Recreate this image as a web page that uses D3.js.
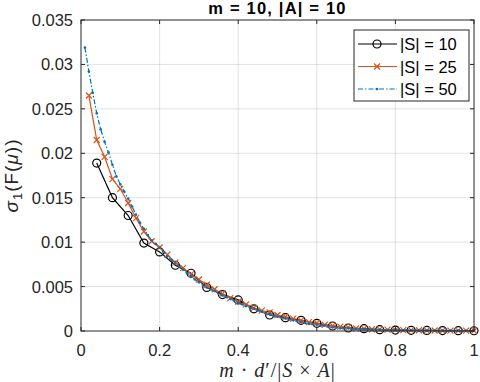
<!DOCTYPE html>
<html>
<head>
<meta charset="utf-8">
<script src="https://cdn.jsdelivr.net/npm/d3@7"></script>
<style>
  body { margin: 0; background: #fff; }
  text { font-family: "Liberation Sans", Arial, sans-serif; }
</style>
</head>
<body>
<div class="svg-container"></div>
<script>
// ---- data ----
let titleText = "m = 10, |A| = 10";

let xTicks = [0, 0.2, 0.4, 0.6, 0.8, 1];
let yTicks = [0, 0.005, 0.01, 0.015, 0.02, 0.025, 0.03, 0.035];
let xTickLabels = ["0", "0.2", "0.4", "0.6", "0.8", "1"];
let yTickLabels = ["0", "0.005", "0.01", "0.015", "0.02", "0.025", "0.03", "0.035"];

let seriesNames = ["|S| = 10", "|S| = 25", "|S| = 50"];

let xS10 = [0.04, 0.08, 0.12, 0.16, 0.20, 0.24, 0.28, 0.32, 0.36, 0.40, 0.44, 0.48, 0.52,
            0.56, 0.60, 0.64, 0.68, 0.72, 0.76, 0.80, 0.84, 0.88, 0.92, 0.96, 1.00];
let yS10 = [0.0189, 0.0150, 0.0130, 0.0099, 0.0089, 0.0074, 0.0065, 0.0049, 0.0041, 0.0035,
            0.0025, 0.0018, 0.0015, 0.0012, 0.00086, 0.00056, 0.00034, 0.00026, 0.00015, 0.0001,
            0.00008, 0.00006, 0.00005, 0.00004, 0.00003];

let xS25 = [0.02, 0.04, 0.06, 0.08, 0.10, 0.12, 0.14, 0.16, 0.18, 0.20, 0.22, 0.24, 0.26,
            0.28, 0.30, 0.32, 0.34, 0.36, 0.38, 0.40, 0.42, 0.44, 0.46, 0.48, 0.50, 0.52,
            0.54, 0.56, 0.58, 0.60, 0.62, 0.64, 0.66, 0.68, 0.70, 0.72, 0.74, 0.76, 0.78,
            0.80, 0.82, 0.84, 0.86, 0.88, 0.90, 0.92, 0.94, 0.96, 0.98, 1.00];
let yS25 = [0.0265, 0.0215, 0.0196, 0.0171, 0.0160, 0.0144, 0.0127, 0.0112, 0.0101, 0.0094,
            0.0086, 0.0077, 0.0071, 0.0064, 0.0058, 0.0052, 0.0047, 0.0042, 0.0037, 0.0033,
            0.0030, 0.0026, 0.0023, 0.0021, 0.0018, 0.0016, 0.0014, 0.0012, 0.0010, 0.0009,
            0.0007, 0.0006, 0.0005, 0.0004, 0.0003, 0.00025, 0.0002, 0.00018, 0.00015, 0.00012,
            0.0001, 0.00009, 0.00008, 0.00007, 0.00006, 0.00005, 0.00005, 0.00004, 0.00004, 0.00003];

let xS50 = [0.01, 0.02, 0.03, 0.04, 0.05, 0.06, 0.07, 0.08, 0.09, 0.10,
            0.11, 0.12, 0.13, 0.14, 0.15, 0.16, 0.17, 0.18, 0.19, 0.20,
            0.21, 0.22, 0.23, 0.24, 0.25, 0.26, 0.27, 0.28, 0.29, 0.30,
            0.31, 0.32, 0.33, 0.34, 0.35, 0.36, 0.37, 0.38, 0.39, 0.40,
            0.41, 0.42, 0.43, 0.44, 0.45, 0.46, 0.47, 0.48, 0.49, 0.50,
            0.51, 0.52, 0.53, 0.54, 0.55, 0.56, 0.57, 0.58, 0.59, 0.60,
            0.61, 0.62, 0.63, 0.64, 0.65, 0.66, 0.67, 0.68, 0.69, 0.70,
            0.71, 0.72, 0.73, 0.74, 0.75, 0.76, 0.77, 0.78, 0.79, 0.80,
            0.81, 0.82, 0.83, 0.84, 0.85, 0.86, 0.87, 0.88, 0.89, 0.90,
            0.91, 0.92, 0.93, 0.94, 0.95, 0.96, 0.97, 0.98, 0.99, 1.00];
let yS50 = [0.0319, 0.0292, 0.0268, 0.0245, 0.0227, 0.0213, 0.0201, 0.0187, 0.0174, 0.0165,
            0.0157, 0.0149, 0.0140, 0.0131, 0.0122, 0.0115, 0.0108, 0.0102, 0.0098, 0.0094,
            0.0089, 0.0084, 0.0080, 0.0076, 0.0072, 0.0069, 0.0065, 0.0062, 0.0058, 0.0055,
            0.0052, 0.0049, 0.0047, 0.0045, 0.0042, 0.0040, 0.0038, 0.0036, 0.0034, 0.0032,
            0.0030, 0.0028, 0.0026, 0.0025, 0.0023, 0.0022, 0.0020, 0.0019, 0.0017, 0.0016,
            0.0015, 0.0014, 0.0013, 0.0012, 0.0011, 0.0010, 0.0009, 0.0008, 0.0008, 0.0007,
            0.0006, 0.0006, 0.0005, 0.0004, 0.0004, 0.0003, 0.0003, 0.0003, 0.0002, 0.0002,
            0.0002, 0.00018, 0.00016, 0.00015, 0.00014, 0.00013, 0.00012, 0.00011, 0.0001, 0.0001,
            0.00009, 0.00009, 0.00008, 0.00008, 0.00007, 0.00007, 0.00006, 0.00006, 0.00006, 0.00005,
            0.00005, 0.00005, 0.00005, 0.00004, 0.00004, 0.00004, 0.00004, 0.00003, 0.00003, 0.00003];

// ---- layout ----
let width = 480;
let height = 382;
let margin = { left: 81, right: 6, top: 20, bottom: 51 };
let axisColor = "#262626";
let colors = ["#000000", "#D95319", "#0072BD"];
let fontSize = 16.5;

let svg = d3.select(".svg-container")
    .append("svg")
    .attr("width", width)
    .attr("height", height);

let x = d3.scaleLinear().domain([0, 1]).range([margin.left, width - margin.right]);
let y = d3.scaleLinear().domain([0, 0.035]).range([height - margin.bottom, margin.top]);

let x0 = x(0), x1 = x(1), y0 = y(0), y1 = y(0.035);

// grid
let grid = svg.append("g").attr("stroke", "#262626").attr("stroke-opacity", 0.13).attr("stroke-width", 1);
xTicks.slice(1, -1).forEach(t => {
    grid.append("line").attr("x1", x(t)).attr("x2", x(t)).attr("y1", y0).attr("y2", y1);
});
yTicks.slice(1, -1).forEach(t => {
    grid.append("line").attr("x1", x0).attr("x2", x1).attr("y1", y(t)).attr("y2", y(t));
});

// series
function pairs(xs, ys)
{
    return xs.map((v, i) => [v, ys[i]]);
}

let line = d3.line().x(d => x(d[0])).y(d => y(d[1]));

let dataS10 = pairs(xS10, yS10);
let dataS25 = pairs(xS25, yS25);
let dataS50 = pairs(xS50, yS50);

let plot = svg.append("g");

plot.append("path").datum(dataS10)
    .attr("d", line).attr("fill", "none").attr("stroke", colors[0]).attr("stroke-width", 1.2);
plot.append("path").datum(dataS25)
    .attr("d", line).attr("fill", "none").attr("stroke", colors[1]).attr("stroke-width", 1.2);
plot.append("path").datum(dataS50)
    .attr("d", line).attr("fill", "none").attr("stroke", colors[2]).attr("stroke-width", 1.2)
    .attr("stroke-dasharray", "5,2,1.5,2");

function drawCircle(g, cx, cy)
{
    g.append("circle").attr("cx", cx).attr("cy", cy).attr("r", 4)
        .attr("fill", "none").attr("stroke", colors[0]).attr("stroke-width", 1.2);
}

function drawCross(g, cx, cy)
{
    let s = 3;
    g.append("path")
        .attr("d", `M${cx - s},${cy - s}L${cx + s},${cy + s}M${cx - s},${cy + s}L${cx + s},${cy - s}`)
        .attr("stroke", colors[1]).attr("stroke-width", 1.2).attr("fill", "none");
}

function drawDot(g, cx, cy)
{
    g.append("circle").attr("cx", cx).attr("cy", cy).attr("r", 1.3).attr("fill", colors[2]);
}

dataS10.forEach(d => drawCircle(plot, x(d[0]), y(d[1])));
dataS25.forEach(d => drawCross(plot, x(d[0]), y(d[1])));
dataS50.forEach(d => drawDot(plot, x(d[0]), y(d[1])));

// axes box with inward ticks
let axes = svg.append("g").attr("stroke", axisColor).attr("stroke-width", 1).attr("fill", "none");
axes.append("rect").attr("x", x0).attr("y", y1).attr("width", x1 - x0).attr("height", y0 - y1);
let tl = 4;
xTicks.forEach(t => {
    axes.append("line").attr("x1", x(t)).attr("x2", x(t)).attr("y1", y0).attr("y2", y0 - tl);
    axes.append("line").attr("x1", x(t)).attr("x2", x(t)).attr("y1", y1).attr("y2", y1 + tl);
});
yTicks.forEach(t => {
    axes.append("line").attr("x1", x0).attr("x2", x0 + tl).attr("y1", y(t)).attr("y2", y(t));
    axes.append("line").attr("x1", x1).attr("x2", x1 - tl).attr("y1", y(t)).attr("y2", y(t));
});

// tick labels
xTicks.forEach((t, i) => {
    svg.append("text").attr("x", x(t)).attr("y", y0 + 25)
        .attr("text-anchor", "middle").attr("font-size", fontSize).attr("fill", axisColor)
        .text(xTickLabels[i]);
});
yTicks.forEach((t, i) => {
    svg.append("text").attr("x", x0 - 8).attr("y", y(t) + 6)
        .attr("text-anchor", "end").attr("font-size", fontSize).attr("fill", axisColor)
        .text(yTickLabels[i]);
});

// title
svg.append("text").attr("x", (x0 + x1) / 2).attr("y", 14)
    .attr("text-anchor", "middle").attr("font-size", 16.5).attr("font-weight", "bold")
    .style("letter-spacing", "1.2px").attr("fill", "#000").text(titleText);

// y label: sigma_1(F(mu))
let ylab = svg.append("text")
    .attr("transform", `translate(18,${(y0 + y1) / 2}) rotate(-90)`)
    .attr("text-anchor", "middle").attr("font-size", 19).style("letter-spacing", "1px")
    .attr("fill", axisColor);
ylab.append("tspan").attr("font-style", "italic").text("σ");
ylab.append("tspan").attr("font-size", 13).attr("dy", 4).text("1");
ylab.append("tspan").attr("dy", -4).text("(F(");
ylab.append("tspan").attr("font-style", "italic").text("μ");
ylab.append("tspan").text("))");

// x label: m . d'/|S x A|
let xlab = svg.append("text")
    .attr("x", (x0 + x1) / 2).attr("y", y0 + 46)
    .attr("text-anchor", "middle").attr("font-size", 20).style("letter-spacing", "1px")
    .attr("fill", axisColor)
    .style("font-family", "'Liberation Serif', 'DejaVu Serif', serif");
xlab.append("tspan").attr("font-style", "italic").text("m");
xlab.append("tspan").text(" · ");
xlab.append("tspan").attr("font-style", "italic").text("d");
xlab.append("tspan").text("′/|");
xlab.append("tspan").attr("font-style", "italic").text("S");
xlab.append("tspan").text(" × ");
xlab.append("tspan").attr("font-style", "italic").text("A");
xlab.append("tspan").text("|");

// legend
let lg = svg.append("g");
let lgX = 354, lgY = 30, lgW = 115, lgH = 71;
lg.append("rect").attr("x", lgX).attr("y", lgY).attr("width", lgW).attr("height", lgH)
    .attr("fill", "#fff").attr("stroke", axisColor).attr("stroke-width", 1);
let rowY = [44, 66.5, 89];
rowY.forEach((ry, i) => {
    let l = lg.append("line").attr("x1", lgX + 4).attr("x2", lgX + 43).attr("y1", ry).attr("y2", ry)
        .attr("stroke", colors[i]).attr("stroke-width", 1.2);
    if (i === 2) l.attr("stroke-dasharray", "5,2,1.5,2");
    let mx = lgX + 23;
    if (i === 0) drawCircle(lg, mx, ry);
    if (i === 1) drawCross(lg, mx, ry);
    if (i === 2) drawDot(lg, mx, ry);
    lg.append("text").attr("x", lgX + 46).attr("y", ry + 6)
        .attr("font-size", fontSize).attr("fill", "#000").text(seriesNames[i]);
});
</script>
</body>
</html>
